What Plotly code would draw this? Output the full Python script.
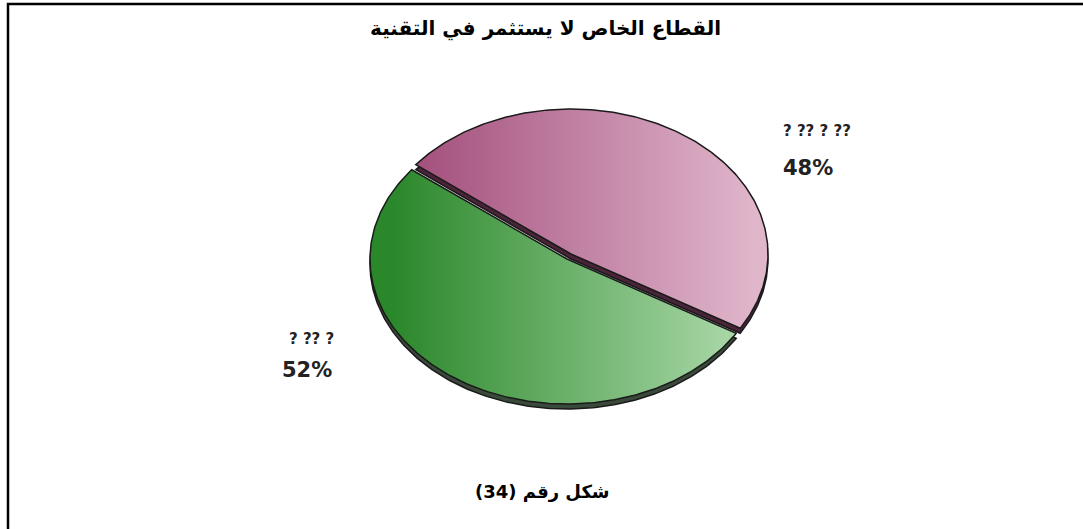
import numpy as np
import plotly.graph_objects as go

# Chart text and data
title_text = "القطاع الخاص لا يستثمر في التقنية"
caption_text = "شكل رقم (34)"
categories = ["? ?? ?", "? ?? ? ??"]
values = [52, 48]

# Canvas in pixel units
W, H = 1083, 529
cx, cy, rx, ry = 567, 259, 197, 145      # tilted pie (ellipse) geometry
start_deg = 142                           # where the first slice begins
explode = [(0, 0), (4, -5)]               # slice offsets
depth = 5                                 # visible thickness of the disc
top_scales = [
    [[0, "#2a872a"], [1, "#b0dcae"]],
    [[0, "#9f4877"], [1, "#e0b6cb"]],
]
side_colors = ["#3a4a3a", "#4b2439"]
label_pos = [(311, 339, 307, 370), (817, 131, 808, 168)]


def wedge(t0, t1, dx, dy):
    t = np.radians(np.linspace(t0, t1, 240))
    xs = np.concatenate([[cx + dx], cx + dx + rx * np.cos(t), [cx + dx]])
    ys = np.concatenate([[cy + dy], cy + dy - ry * np.sin(t), [cy + dy]])
    return xs, ys


total = float(sum(values))
angles = []
t = start_deg
for v in values:
    span = 360.0 * v / total
    angles.append((t, t + span))
    t += span

fig = go.Figure()

# draw the second slice first so the first one sits on top
for i in [1, 0]:
    t0, t1 = angles[i]
    dx, dy = explode[i]
    xs, ys = wedge(t0, t1, dx, dy + depth)
    fig.add_trace(go.Scatter(
        x=xs, y=ys, mode="lines", fill="toself",
        fillcolor=side_colors[i],
        line=dict(color="#1a1a1a", width=1.5),
        hoverinfo="skip", showlegend=False,
    ))
    xs, ys = wedge(t0, t1, dx, dy)
    fig.add_trace(go.Scatter(
        x=xs, y=ys, mode="lines", fill="toself",
        fillgradient=dict(type="horizontal", colorscale=top_scales[i],
                          start=cx - rx + 20, stop=cx + rx - 10),
        line=dict(color="#1a1a1a", width=1.5),
        name=categories[i],
        hovertemplate=f"{categories[i]}: {values[i]}%<extra></extra>",
        showlegend=False,
    ))

annotations = [
    dict(x=545, y=28, text=f"<b>{title_text}</b>", showarrow=False,
         font=dict(family="DejaVu Sans", size=20, color="#000")),
    dict(x=542, y=491, text=f"<b>{caption_text}</b>", showarrow=False,
         font=dict(family="DejaVu Sans", size=18, color="#000")),
]
for i, (lx, ly, px, py) in enumerate(label_pos):
    annotations.append(dict(x=lx, y=ly, text=f"<b>{categories[i]}</b>",
                            showarrow=False,
                            font=dict(family="DejaVu Sans", size=15, color="#222")))
    annotations.append(dict(x=px, y=py, text=f"<b>{values[i]}%</b>",
                            showarrow=False,
                            font=dict(family="DejaVu Sans", size=21, color="#222")))

# outer frame: left and top edges
shapes = [dict(type="path", path=f"M 8 {H + 5} L 8 4 L {W + 5} 4",
               xref="x", yref="y", line=dict(color="#000", width=2.5))]

fig.update_layout(
    width=W, height=H, autosize=False,
    margin=dict(l=0, r=0, t=0, b=0),
    paper_bgcolor="white", plot_bgcolor="white",
    xaxis=dict(range=[0, W], visible=False, fixedrange=True),
    yaxis=dict(range=[H, 0], visible=False, fixedrange=True),
    annotations=annotations, shapes=shapes,
)

fig.write_html("out.html")
